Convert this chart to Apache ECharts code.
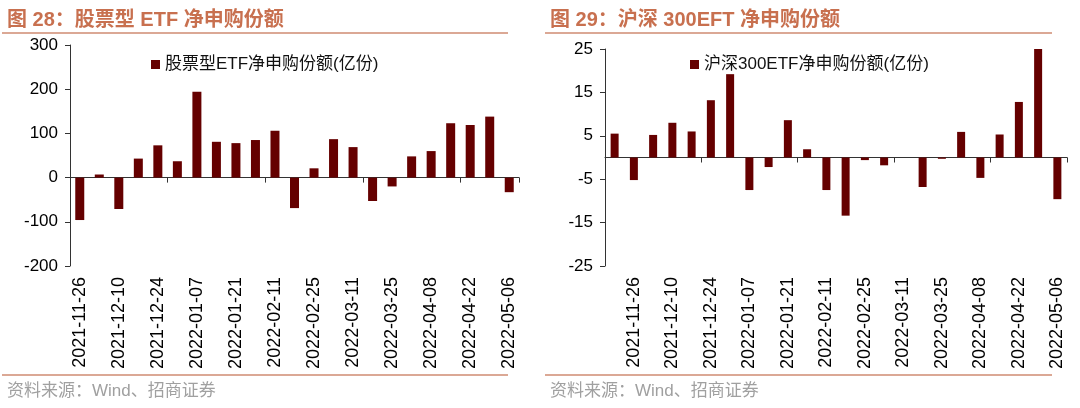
<!DOCTYPE html>
<html>
<head>
<meta charset="utf-8">
<script src="https://cdn.jsdelivr.net/npm/echarts@6/dist/echarts.min.js"></script>
<style>
html,body{margin:0;padding:0;background:#fff;}
#c{width:1080px;height:408px;}
</style>
</head>
<body>
<div id="c"></div>
<script>
// Left chart: 股票型ETF净申购份额(亿份)
const leftCategories = ['2021-11-26','2021-12-03','2021-12-10','2021-12-17','2021-12-24','2021-12-31','2022-01-07','2022-01-14','2022-01-21','2022-01-28','2022-02-11','2022-02-18','2022-02-25','2022-03-04','2022-03-11','2022-03-18','2022-03-25','2022-04-01','2022-04-08','2022-04-15','2022-04-22','2022-04-29','2022-05-06'];
const leftValues = [-96, 7, -71, 43, 73, 37, 194, 81, 78, 85, 106, -69, 21, 87, 69, -53, -20, 48, 60, 123, 119, 138, -33];
const leftName = '股票型ETF净申购份额(亿份)';
const leftTitle = '图 28：股票型 ETF 净申购份额';

// Right chart: 沪深300ETF净申购份额(亿份)
const rightCategories = ['2021-11-19','2021-11-26','2021-12-03','2021-12-10','2021-12-17','2021-12-24','2021-12-31','2022-01-07','2022-01-14','2022-01-21','2022-01-28','2022-02-11','2022-02-18','2022-02-25','2022-03-04','2022-03-11','2022-03-18','2022-03-25','2022-04-01','2022-04-08','2022-04-15','2022-04-22','2022-04-29','2022-05-06'];
const rightValues = [5.5, -5.2, 5.2, 8.0, 6.0, 13.2, 19.2, -7.5, -2.2, 8.6, 1.9, -7.5, -13.4, -0.6, -1.8, 0, -6.8, -0.3, 5.9, -4.7, 5.3, 12.8, 25.0, -9.6];
const rightName = '沪深300ETF净申购份额(亿份)';
const rightTitle = '图 29：沪深 300EFT 净申购份额';

const sourceText = '资料来源：Wind、招商证券';

const BAR = '#650000';
const ACCENT = '#C8704F';
const LINE = '#CF8B72';
const AX = '#333';
const LATIN = 'Arial, "Liberation Sans", "Noto Sans CJK SC", sans-serif';
const CJK = '"Liberation Sans", "Noto Sans CJK SC", sans-serif';

const chart = echarts.init(document.getElementById('c'));

function zeroAxis(grid, cats) {
  return {
    type: 'category', gridIndex: grid, data: cats, position: 'bottom',
    axisLine: {show: true, onZero: true, lineStyle: {color: AX, width: 1}},
    axisTick: {show: true, length: 5, alignWithLabel: false, lineStyle: {color: AX}},
    axisLabel: {show: false}, splitLine: {show: false}
  };
}
function labelAxis(grid, cats, intervalFn) {
  return {
    type: 'category', gridIndex: grid, data: cats, position: 'bottom',
    axisLine: {show: false, onZero: false},
    axisTick: {show: false},
    axisLabel: {show: true, rotate: 90, interval: intervalFn, margin: 11,
      color: '#000', fontSize: 18, fontFamily: LATIN},
    splitLine: {show: false}
  };
}
function valueAxis(grid, min, max, interval) {
  return {
    type: 'value', gridIndex: grid, min: min, max: max, interval: interval,
    axisLine: {show: true, lineStyle: {color: AX}},
    axisTick: {show: true, inside: false, length: 5, lineStyle: {color: AX}},
    axisLabel: {color: '#000', fontSize: 17, fontFamily: LATIN, margin: 12},
    splitLine: {show: false}
  };
}

chart.setOption({
  animation: false,
  backgroundColor: '#fff',
  title: [
    {text: leftTitle, left: 2, top: 5, textStyle: {color: ACCENT, fontSize: 20, fontWeight: 'bold', fontFamily: CJK}},
    {text: rightTitle, left: 545, top: 5, textStyle: {color: ACCENT, fontSize: 20, fontWeight: 'bold', fontFamily: CJK}},
    {text: sourceText, left: 2, top: 378, textStyle: {color: '#a0a0a0', fontSize: 17, fontWeight: 'normal', fontFamily: CJK}},
    {text: sourceText, left: 545, top: 378, textStyle: {color: '#a0a0a0', fontSize: 17, fontWeight: 'normal', fontFamily: CJK}}
  ],
  graphic: [
    {type: 'line', shape: {x1: 2, y1: 33, x2: 508, y2: 33}, style: {stroke: LINE, lineWidth: 1.5}},
    {type: 'line', shape: {x1: 545, y1: 33, x2: 1052, y2: 33}, style: {stroke: LINE, lineWidth: 1.5}},
    {type: 'line', shape: {x1: 2, y1: 375, x2: 508, y2: 375}, style: {stroke: LINE, lineWidth: 1.5}},
    {type: 'line', shape: {x1: 545, y1: 375, x2: 1052, y2: 375}, style: {stroke: LINE, lineWidth: 1.5}}
  ],
  legend: [
    {data: [leftName], left: 146, top: 51, icon: 'rect', itemWidth: 9, itemHeight: 9, itemGap: 4,
      textStyle: {color: '#111', fontSize: 17, fontFamily: CJK}},
    {data: [rightName], left: 685, top: 51, icon: 'rect', itemWidth: 9, itemHeight: 9, itemGap: 4,
      textStyle: {color: '#111', fontSize: 17, fontFamily: CJK}}
  ],
  grid: [
    {left: 70, top: 45, width: 449, height: 221, containLabel: false},
    {left: 605, top: 49, width: 462, height: 217, containLabel: false}
  ],
  xAxis: [
    labelAxis(0, leftCategories, function (i) { return i % 2 === 0; }),
    zeroAxis(0, leftCategories),
    labelAxis(1, rightCategories, function (i) { return i % 2 === 1; }),
    zeroAxis(1, rightCategories)
  ],
  yAxis: [
    valueAxis(0, -200, 300, 100),
    valueAxis(1, -25, 25, 10)
  ],
  series: [
    {name: leftName, type: 'bar', xAxisIndex: 0, yAxisIndex: 0, data: leftValues,
      barWidth: 9, itemStyle: {color: BAR}},
    {name: rightName, type: 'bar', xAxisIndex: 2, yAxisIndex: 1, data: rightValues,
      barWidth: 8, itemStyle: {color: BAR}}
  ]
});
</script>
</body>
</html>
